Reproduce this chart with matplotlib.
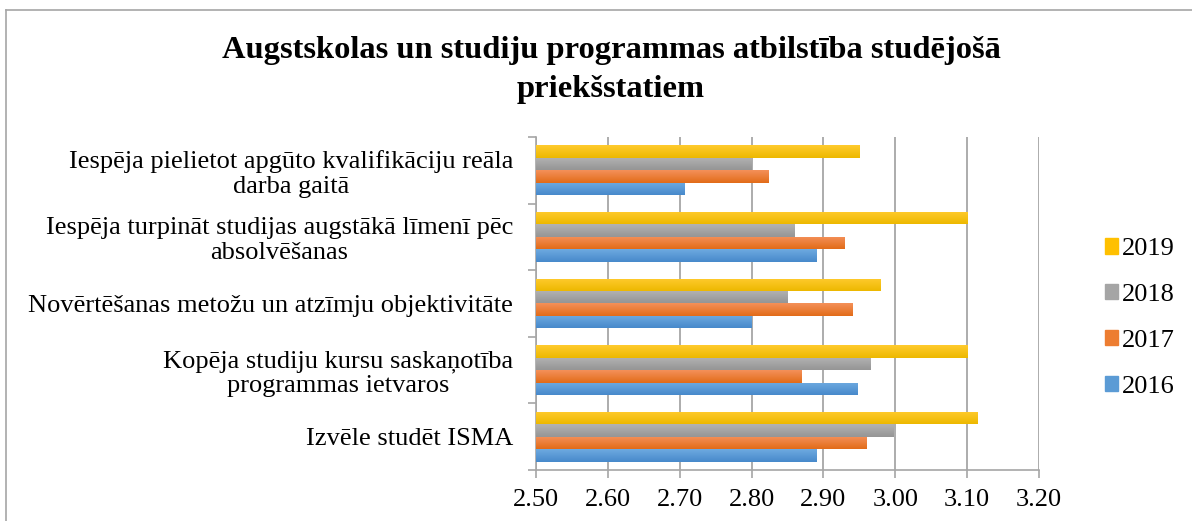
import matplotlib
matplotlib.use("Agg")
import matplotlib.pyplot as plt
import numpy as np
from matplotlib.lines import Line2D
from matplotlib.patches import Patch
from matplotlib.colors import LinearSegmentedColormap

categories = [
    "Izvēle studēt ISMA",
    "Kopēja studiju kursu saskaņotība\nprogrammas ietvaros",
    "Novērtēšanas metožu un atzīmju objektivitāte",
    "Iespēja turpināt studijas augstākā līmenī pēc\nabsolvēšanas",
    "Iespēja pielietot apgūto kvalifikāciju reāla\ndarba gaitā",
]
years = ["2016", "2017", "2018", "2019"]
v2016 = [2.89, 2.947, 2.80, 2.89, 2.707]
v2017 = [2.96, 2.87, 2.94, 2.93, 2.823]
v2018 = [2.997, 2.965, 2.85, 2.86, 2.80]
v2019 = [3.114, 3.10, 2.98, 3.10, 2.95]
xticks = [2.50, 2.60, 2.70, 2.80, 2.90, 3.00, 3.10, 3.20]
title = "Augstskolas un studiju programmas atbilstība studējošā\npriekšstatiem"

colors = ["#5B9BD5", "#ED7D31", "#A5A5A5", "#FFC000"]
grad_light = ["#6EAAE0", "#F4915A", "#B3B3B3", "#FFCB2E"]
grad_dark = ["#4789CB", "#E26B18", "#959595", "#EDB800"]
series = [v2016, v2017, v2018, v2019]

plt.rcParams['font.family'] = ['Liberation Serif', 'DejaVu Serif']

W, H = 1192, 521
fig = plt.figure(figsize=(W / 100, H / 100), dpi=100)
ax = fig.add_axes([536 / W, 1 - 470 / H, (1039 - 536) / W, (470 - 137) / H])

n = len(years)
bh = 0.75 / n
y = np.arange(len(categories))
grad = np.linspace(0, 1, 64).reshape(-1, 1)
for i, (vals, c, yr) in enumerate(zip(series, colors, years)):
    offs = (i - (n - 1) / 2) * bh
    bars = ax.barh(y + offs, np.array(vals) - xticks[0], left=xticks[0], height=bh,
                   color=c, label=yr, zorder=3, linewidth=0)
    cmap = LinearSegmentedColormap.from_list(f"g{i}", [grad_dark[i], grad_light[i]])
    for b in bars:
        x0, y0 = b.get_x(), b.get_y()
        im = ax.imshow(grad, extent=[x0, x0 + b.get_width(), y0, y0 + b.get_height()],
                       origin='lower', aspect='auto', cmap=cmap, zorder=3.5,
                       interpolation='bilinear')
        im.set_clip_path(b)

ax.set_xlim(xticks[0], xticks[-1])
ax.set_ylim(-0.5, len(categories) - 0.5)
ax.set_aspect('auto')
ax.set_xticks(xticks)
ax.set_xticklabels([f"{t:.2f}" for t in xticks], fontsize=19)
ax.set_yticks(y)
ax.set_yticklabels(categories, fontsize=19, multialignment='center', linespacing=1.15)
ax.set_yticks(np.arange(-0.5, len(categories)), minor=True)
ax.tick_params(axis='y', which='major', length=0, pad=16.5)
ax.tick_params(axis='y', which='minor', length=6, color='#A6A6A6', width=1.2)
ax.tick_params(axis='x', length=6, color='#A6A6A6', width=1.2, pad=8)
ax.grid(axis='x', color='#A6A6A6', linewidth=1.3, zorder=0)
for s in ['top', 'right']:
    ax.spines[s].set_visible(False)
for s in ['left', 'bottom']:
    ax.spines[s].set_color('#A6A6A6')
    ax.spines[s].set_linewidth(1.2)

fig.text(611 / W, 1 - 70 / H, title, ha='center', va='center', fontsize=23.4,
         fontweight='bold', linespacing=1.42)

handles = [Patch(color=c, label=yr) for c, yr in zip(colors, years)][::-1]
fig.legend(handles=handles, loc='center left', bbox_to_anchor=(1092 / W, 1 - 318 / H),
           frameon=False, fontsize=19, handlelength=0.5, handleheight=0.5,
           handletextpad=0.15, labelspacing=0.9, borderpad=0)

fig.add_artist(Line2D([6 / W, 6 / W], [0, 1 - 10 / H], color='#A6A6A6', lw=1.2))
fig.add_artist(Line2D([6 / W, 1], [1 - 10 / H, 1 - 10 / H], color='#A6A6A6', lw=1.2))

fig.savefig("out.png", dpi=100)
